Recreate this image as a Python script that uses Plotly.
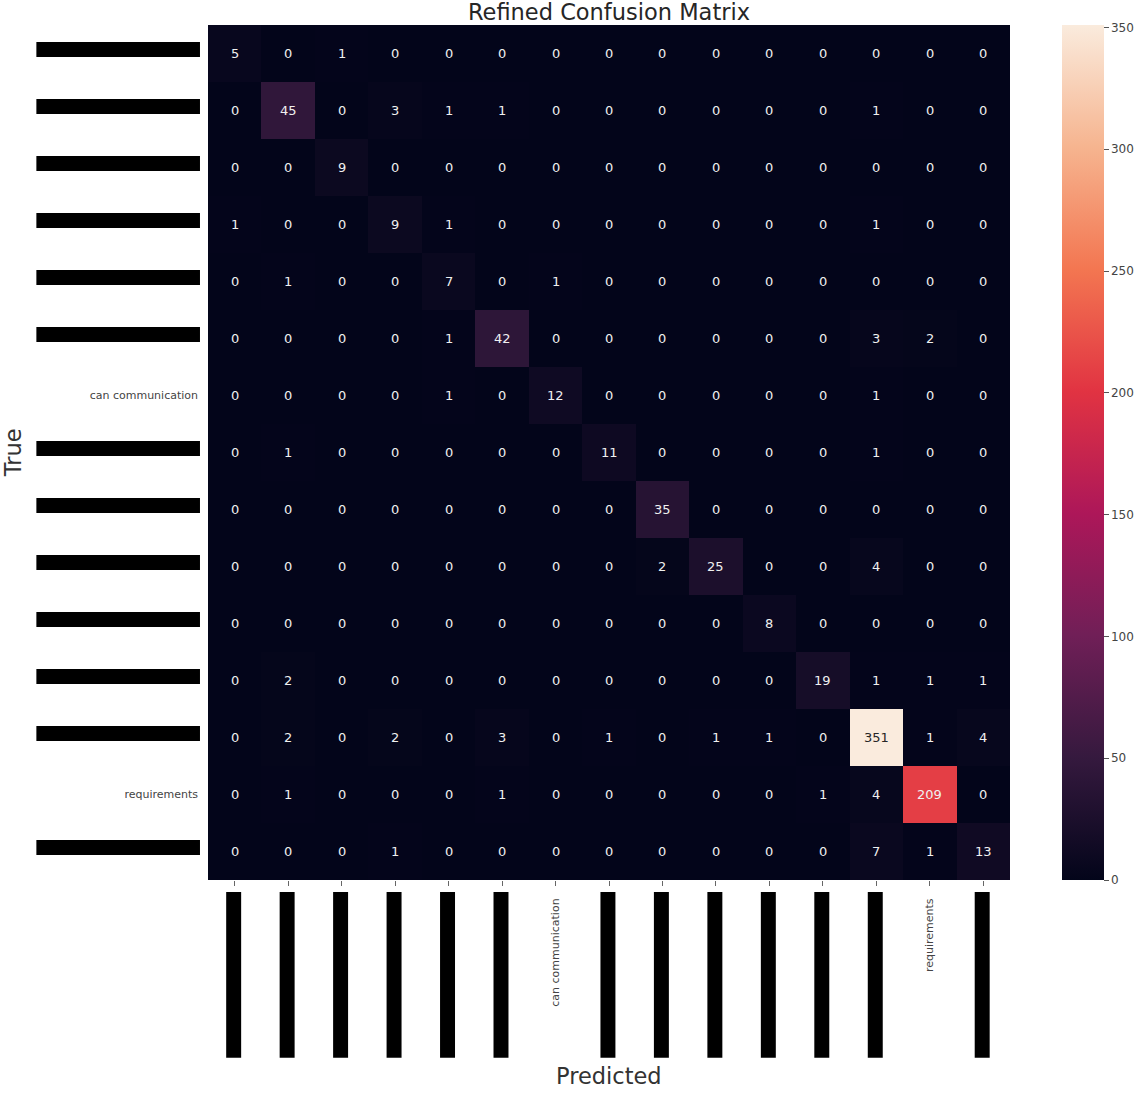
import plotly.graph_objects as go

labels = ["label 1", "label 2", "label 3", "label 4", "label 5", "label 6",
          "can communication", "label 8", "label 9", "label 10", "label 11",
          "label 12", "label 13", "requirements", "label 15"]

matrix = [
    [5, 0, 1, 0, 0, 0, 0, 0, 0, 0, 0, 0, 0, 0, 0],
    [0, 45, 0, 3, 1, 1, 0, 0, 0, 0, 0, 0, 1, 0, 0],
    [0, 0, 9, 0, 0, 0, 0, 0, 0, 0, 0, 0, 0, 0, 0],
    [1, 0, 0, 9, 1, 0, 0, 0, 0, 0, 0, 0, 1, 0, 0],
    [0, 1, 0, 0, 7, 0, 1, 0, 0, 0, 0, 0, 0, 0, 0],
    [0, 0, 0, 0, 1, 42, 0, 0, 0, 0, 0, 0, 3, 2, 0],
    [0, 0, 0, 0, 1, 0, 12, 0, 0, 0, 0, 0, 1, 0, 0],
    [0, 1, 0, 0, 0, 0, 0, 11, 0, 0, 0, 0, 1, 0, 0],
    [0, 0, 0, 0, 0, 0, 0, 0, 35, 0, 0, 0, 0, 0, 0],
    [0, 0, 0, 0, 0, 0, 0, 0, 2, 25, 0, 0, 4, 0, 0],
    [0, 0, 0, 0, 0, 0, 0, 0, 0, 0, 8, 0, 0, 0, 0],
    [0, 2, 0, 0, 0, 0, 0, 0, 0, 0, 0, 19, 1, 1, 1],
    [0, 2, 0, 2, 0, 3, 0, 1, 0, 1, 1, 0, 351, 1, 4],
    [0, 1, 0, 0, 0, 1, 0, 0, 0, 0, 0, 1, 4, 209, 0],
    [0, 0, 0, 1, 0, 0, 0, 0, 0, 0, 0, 0, 7, 1, 13],
]

colorbar_ticks = [0, 50, 100, 150, 200, 250, 300, 350]

# labels hidden (redacted) in the original image
redacted = [i for i, l in enumerate(labels) if l.startswith("label")]

rocket = [
    [0.0, "#03051A"], [0.143, "#35193e"], [0.286, "#701f57"], [0.429, "#ad1759"],
    [0.571, "#e13342"], [0.714, "#f37651"], [0.857, "#f6b48f"], [1.0, "#faebdd"],
]

n = len(labels)
idx = list(range(n))
zmax = max(max(r) for r in matrix)

fig = go.Figure()
fig.add_trace(go.Heatmap(
    z=matrix, x=idx, y=idx,
    colorscale=rocket, zmin=0, zmax=zmax,
    showscale=True,
    colorbar=dict(
        x=1.065, xanchor="left", xpad=0, y=0.5, yanchor="middle", ypad=0,
        len=1.0, lenmode="fraction",
        thickness=42, outlinewidth=0,
        tickvals=colorbar_ticks, ticks="outside", ticklen=5, tickcolor="#555",
        tickfont=dict(family="DejaVu Sans", size=12, color="#444"),
    ),
    hoverinfo="skip",
))

for i, row in enumerate(matrix):
    for j, v in enumerate(row):
        fig.add_annotation(
            x=j, y=i, text=str(v), showarrow=False, xref="x", yref="y",
            font=dict(family="DejaVu Sans", size=13,
                      color="#262626" if v / zmax > 0.6 else "#f0f0f0"),
        )

shapes = []
for i in redacted:
    shapes.append(dict(type="rect", xref="paper", yref="y",
                       x0=-0.214, x1=-0.01, y0=i - 0.2, y1=i + 0.06,
                       fillcolor="black", line=dict(width=0), layer="above"))
    shapes.append(dict(type="rect", xref="x", yref="paper",
                       x0=i - 0.16, x1=i + 0.12, y0=-0.014, y1=-0.208,
                       fillcolor="black", line=dict(width=0), layer="above"))

fig.update_layout(
    width=1146, height=1095,
    margin=dict(l=208, r=136, t=25, b=215, autoexpand=False),
    paper_bgcolor="white", plot_bgcolor="white",
    font=dict(family="DejaVu Sans", color="#333"),
    title=dict(text="Refined Confusion Matrix", x=0.5, xref="paper",
               y=1 - 12 / 1095, yanchor="middle",
               font=dict(family="DejaVu Sans", size=22.5, color="#262626")),
    xaxis=dict(tickmode="array", tickvals=idx, ticktext=labels, tickangle=-90,
               ticks="outside", ticklen=5, tickcolor="#666", showgrid=False,
               zeroline=False, showline=False, automargin=False,
               range=[-0.5, n - 0.5], ticklabelstandoff=8,
               tickfont=dict(family="DejaVu Sans", size=11, color="#444")),
    yaxis=dict(tickmode="array", tickvals=idx, ticktext=labels,
               ticks="", showgrid=False, zeroline=False, showline=False,
               automargin=False, range=[n - 0.5, -0.5], ticklabelstandoff=9,
               tickfont=dict(family="DejaVu Sans", size=11, color="#444")),
    shapes=shapes,
)

fig.add_annotation(text="Predicted", xref="paper", yref="paper", x=0.5, y=-0.2297,
                   showarrow=False, yanchor="middle",
                   font=dict(family="DejaVu Sans", size=22.5, color="#333"))
fig.add_annotation(text="True", xref="paper", yref="paper", x=-0.2435, y=0.5,
                   textangle=-90, showarrow=False, xanchor="center",
                   font=dict(family="DejaVu Sans", size=22.5, color="#333"))

fig.write_html("out.html", config={"displayModeBar": False},
               post_script="document.body.style.margin='0';document.body.style.overflow='hidden';")
